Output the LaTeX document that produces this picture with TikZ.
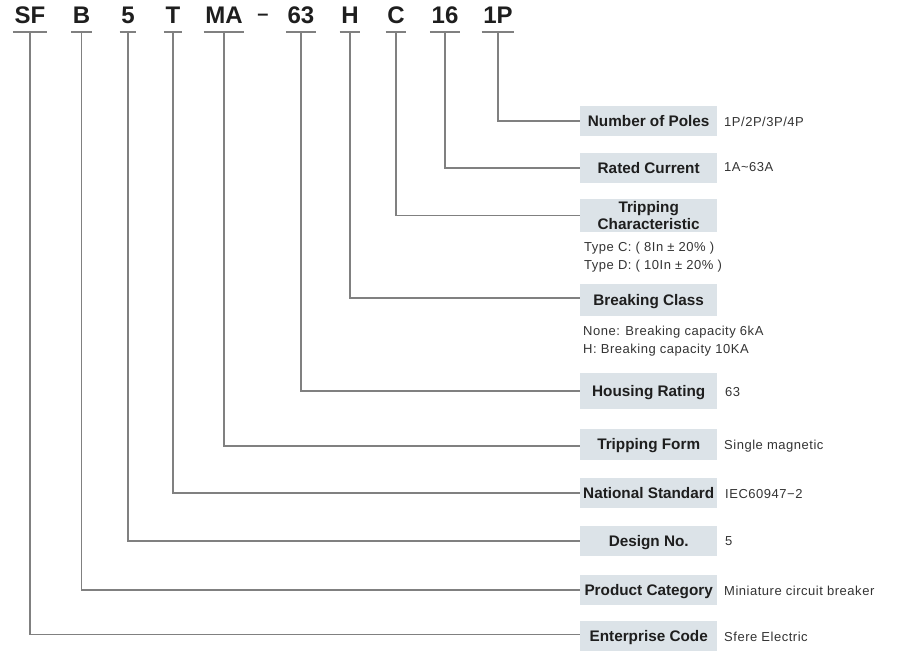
\documentclass[tikz,border=0pt]{standalone}
\usepackage{fontspec}
\setmainfont{Liberation Sans}
\newfontfamily\valfont[LetterSpace=4]{Liberation Sans}
\usetikzlibrary{calc}
\definecolor{boxfill}{HTML}{DCE3E8}
\definecolor{linegray}{HTML}{808080}
\definecolor{txt}{HTML}{1E1E1E}
\definecolor{valtxt}{HTML}{333333}
\begin{document}
\begin{tikzpicture}[x=1pt,y=-1pt,
  code/.style={font=\fontsize{24}{28}\selectfont\bfseries, text=txt, anchor=base, inner xsep=1.5pt, inner ysep=0pt},
  lbl/.style={fill=boxfill, minimum width=137pt, align=center, text height=11pt, text depth=0pt,
    font=\fontsize{15.3}{16.5}\selectfont\bfseries, text=txt, inner sep=0pt, anchor=west},
  val/.style={font=\valfont\fontsize{13}{18}\selectfont, text=valtxt, anchor=west, inner sep=0pt},
  conn/.style={draw=linegray, line width=1.3pt}]
\useasboundingbox (0,0) rectangle (900,654);

% code letters
\node[code] (c1) at (30,23) {SF};
\node[code] (c2) at (81.5,23) {B};
\node[code] (c3) at (128,23) {5};
\node[code] (c4) at (173,23) {T};
\node[code] (c5) at (224,23) {MA};
\node[code, font=\fontsize{20}{24}\selectfont\bfseries] (dash) at (263,20.5) {–};
\node[code] (c6) at (301,23) {63};
\node[code] (c7) at (350,23) {H};
\node[code] (c8) at (396,23) {C};
\node[code] (c9) at (445,23) {16};
\node[code] (c10) at (498,23) {1P};

% label boxes
\node[lbl, minimum height=30pt] (poles) at (580,121) {Number of Poles};
\node[lbl, minimum height=30pt] (rated) at (580,168) {Rated Current};
\node[lbl, minimum height=33pt, text height=27pt] (trip) at (580,215.5) {Tripping\\Characteristic};
\node[lbl, minimum height=32pt] (brk) at (580,300) {Breaking Class};
\node[lbl, minimum height=36pt] (hous) at (580,391) {Housing Rating};
\node[lbl, minimum height=31pt] (form) at (580,444) {Tripping Form};
\node[lbl, minimum height=30pt] (nat) at (580,493) {National Standard};
\node[lbl, minimum height=30pt] (des) at (580,541) {Design No.};
\node[lbl, minimum height=30pt] (prod) at (580,590) {Product Category};
\node[lbl, minimum height=30pt] (ent) at (580,636) {Enterprise Code};

% values
\node[val] (v1) at (724,122) {1P/2P/3P/4P};
\node[val] (v2) at (724,167) {1A\textasciitilde 63A};
\node[val, align=left, anchor=north west] (v3) at (584,242) {Type C: ( 8In ± 20\% )\\Type D: ( 10In ± 20\% )};
\node[val, align=left, anchor=north west] (v4) at (583,326) {None: Breaking capacity 6kA\\H: Breaking capacity 10KA};
\node[val] (v5) at (725,392) {63};
\node[val] (v6) at (724,446) {Single magnetic};
\node[val] (v7) at (725,494) {IEC60947−2};
\node[val] (v8) at (725,541) {5};
\node[val] (v9) at (724,591) {Miniature circuit breaker};
\node[val] (v10) at (724,637) {Sfere Electric};

% underlines
\foreach \c in {c1,c2,c3,c4,c5,c6,c7,c8,c9,c10}{
  \draw[conn] (\c.west |- 0,32) -- (\c.east |- 0,32);
}

% connectors
\draw[conn] (c10 |- 0,32) |- (poles.west);
\draw[conn] (c9 |- 0,32) |- (rated.west);
\draw[conn] (c8 |- 0,32) |- (trip.west);
\draw[conn] (c7 |- 0,32) |- ([yshift=2pt]brk.west);
\draw[conn] (c6 |- 0,32) |- (hous.west);
\draw[conn] (c5 |- 0,32) |- ([yshift=-2pt]form.west);
\draw[conn] (c4 |- 0,32) |- (nat.west);
\draw[conn] (c3 |- 0,32) |- (des.west);
\draw[conn] (c2 |- 0,32) |- (prod.west);
\draw[conn] (c1 |- 0,32) |- ([yshift=1.5pt]ent.west);
\end{tikzpicture}
\end{document}
